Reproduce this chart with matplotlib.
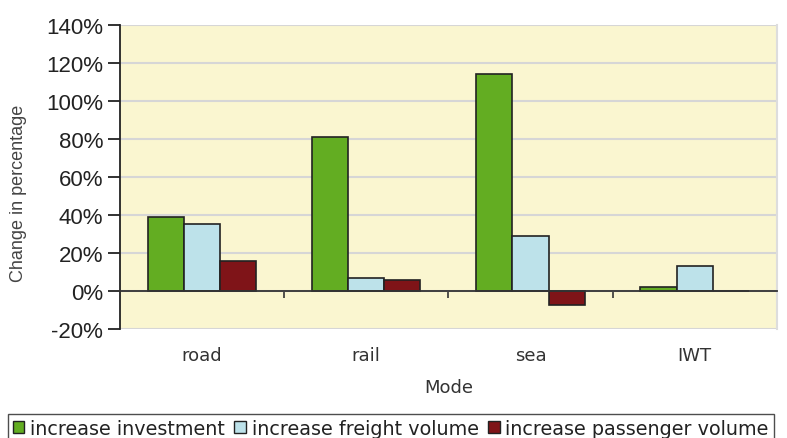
import matplotlib.pyplot as plt
import numpy as np
from matplotlib.patches import Patch
from matplotlib.ticker import FuncFormatter

modes = ['road', 'rail', 'sea', 'IWT']
series_names = ['increase investment', 'increase freight volume', 'increase passenger volume']
investment = [39, 81, 114, 2]
freight = [35, 7, 29, 13]
passenger = [16, 6, -7.5, 0]
colors = ['#63ad22', '#bde2ea', '#7f1418']

fig = plt.figure(figsize=(7.87, 4.39), dpi=100)
ax = fig.add_axes([0.1525, 0.2483, 0.8345, 0.6925])
ax.set_facecolor('#faf6d0')

x = np.arange(len(modes))
w = 0.22
for i, (vals, c) in enumerate(zip([investment, freight, passenger], colors)):
    ax.bar(x + (i - 1) * w, vals, w, color=c, edgecolor='#222222', linewidth=1.2, zorder=3)

ax.set_xlim(-0.5, 3.5)
ax.set_ylim(-20, 140)
ax.set_yticks(range(-20, 141, 20))
ax.yaxis.set_major_formatter(FuncFormatter(lambda v, p: f'{v:.0f}%'))
ax.grid(axis='y', color='#d6d6d6', linewidth=1.5, zorder=0)

ax.spines['top'].set_visible(False)
ax.spines['right'].set_color('#dddddd')
ax.spines['right'].set_linewidth(1.5)
ax.spines['left'].set_color('#222222')
ax.spines['left'].set_linewidth(1.3)
ax.spines['bottom'].set_position(('data', 0))
ax.spines['bottom'].set_color('#333333')
ax.spines['bottom'].set_linewidth(1.3)
ax.spines['bottom'].set_zorder(4)

ax.set_xticks([0.5, 1.5, 2.5, 3.5])
ax.set_xticklabels([])
ax.tick_params(axis='x', length=5, width=1.2, color='#333333')
ax.tick_params(axis='y', length=9, width=1.3, color='#222222', labelsize=16,
               labelcolor='#222222', pad=3)
for lab in ax.get_yticklabels():
    lab.set_family('Liberation Sans')

for xi, m in zip(x, modes):
    ax.text(xi, -0.085, m, transform=ax.get_xaxis_transform(), ha='center', va='center',
            fontsize=13, color='#333333', family='DejaVu Sans')
ax.text(1.5, -0.19, 'Mode', transform=ax.get_xaxis_transform(), ha='center', va='center',
        fontsize=13, color='#333333', family='DejaVu Sans')

fig.text(0.024, 0.56, 'Change in percentage', rotation=90, ha='center', va='center',
         fontsize=13, color='#444444', family='Liberation Sans')

handles = [Patch(facecolor=c, edgecolor='#222222', linewidth=1.0) for c in colors]
leg = fig.legend(handles, series_names, loc='lower left', bbox_to_anchor=(0.01, -0.01),
                 ncol=3, frameon=True, fancybox=False, fontsize=13.8,
                 handlelength=0.6, handleheight=0.6, handletextpad=0.3,
                 columnspacing=0.5, borderpad=0.25, borderaxespad=0.0)
leg.get_frame().set_edgecolor('#222222')
leg.get_frame().set_linewidth(1.0)
for t in leg.get_texts():
    t.set_color('#222222')

fig.savefig('out.png', dpi=100)
